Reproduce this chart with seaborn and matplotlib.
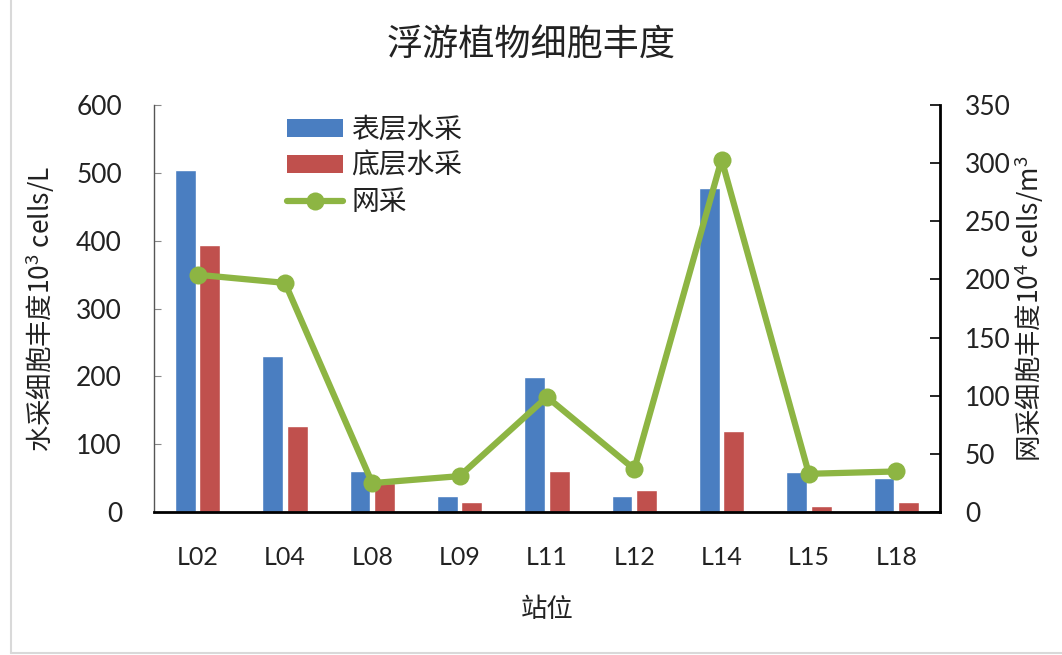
import matplotlib
matplotlib.use("Agg")
import matplotlib.pyplot as plt
import seaborn as sns
import numpy as np
import pandas as pd
from matplotlib.lines import Line2D
from matplotlib.patches import Patch

# Stations and abundance values
stations = ["L02", "L04", "L08", "L09", "L11", "L12", "L14", "L15", "L18"]
surface = [504, 230, 60, 24, 199, 24, 478, 59, 50]      # 表层水采, 10^3 cells/L
bottom = [393, 127, 43, 15, 61, 33, 119, 9, 15]        # 底层水采, 10^3 cells/L
net = [204, 197, 25, 31, 99, 37, 303, 33, 35]          # 网采, 10^4 cells/m^3

sns.set_theme(style="white")
CJK = "Noto Sans CJK SC"
FONTS = ["Lato", CJK, "DejaVu Sans"]
plt.rcParams["font.family"] = FONTS
plt.rcParams["mathtext.fontset"] = "custom"
plt.rcParams["mathtext.rm"] = CJK
plt.rcParams["mathtext.it"] = CJK
plt.rcParams["mathtext.bf"] = CJK

BLUE = "#4A7EC1"
RED = "#C0504D"
GREEN = "#8DB543"
TXT = "#222222"
TICK_FS = 19
LABEL_FS = 19

fig = plt.figure(figsize=(10.62, 6.55), dpi=100)
ax = fig.add_axes([0.145, 0.218, 0.740, 0.622])

df = pd.DataFrame({
    "站位": stations * 2,
    "丰度": surface + bottom,
    "层": ["表层水采"] * len(stations) + ["底层水采"] * len(stations),
})
sns.barplot(data=df, x="站位", y="丰度", hue="层", order=stations,
            hue_order=["表层水采", "底层水采"], palette=[BLUE, RED],
            width=0.56, gap=0.15, saturation=1, ax=ax, legend=False)

ax.set_ylim(0, 600)
ax.set_yticks(np.arange(0, 601, 100))
ax.set_xlim(-0.5, len(stations) - 0.5)
ax.set_xlabel("站位", fontsize=LABEL_FS, color=TXT, labelpad=20, family=[CJK, "DejaVu Sans"])
ax.set_ylabel("水采细胞丰度10$^3$ cells/L", fontsize=LABEL_FS, color=TXT, labelpad=14,
              family=CJK)

# x ticks at category boundaries, labels at centres
ax.set_xticks(np.arange(-0.5, len(stations), 1.0))
ax.set_xticklabels([])
ax.set_xticks(np.arange(len(stations)), minor=True)
ax.set_xticklabels(stations, minor=True, fontsize=TICK_FS - 1, color=TXT)
ax.tick_params(axis="x", which="major", direction="out", length=7, width=1.2, color="black")
ax.tick_params(axis="x", which="minor", length=0, pad=24)
ax.tick_params(axis="y", direction="in", length=5, width=0.8, color="#888888",
               labelsize=TICK_FS, labelcolor=TXT, pad=23)

ax.spines["top"].set_visible(False)
ax.spines["right"].set_visible(False)
ax.spines["left"].set_color("#555555")
ax.spines["left"].set_linewidth(1.0)
ax.spines["bottom"].set_color("black")
ax.spines["bottom"].set_linewidth(2.0)

# Net-sample line on the secondary axis
ax2 = ax.twinx()
sns.lineplot(x=np.arange(len(stations)), y=net, ax=ax2, color=GREEN,
             linewidth=4.5, marker="o", markersize=13, markeredgewidth=0,
             legend=False, zorder=5)
ax2.set_ylim(0, 350)
ax2.set_yticks(np.arange(0, 351, 50))
ax2.set_xlim(-0.5, len(stations) - 0.5)
ax2.set_ylabel("网采细胞丰度10$^4$ cells/m$^3$", fontsize=LABEL_FS, color=TXT, labelpad=1,
               family=CJK)
ax2.tick_params(axis="y", direction="in", length=7, width=1.2, color="black",
                labelsize=TICK_FS, labelcolor=TXT, pad=18)
for s in ["top", "left", "bottom"]:
    ax2.spines[s].set_visible(False)
ax2.spines["right"].set_color("black")
ax2.spines["right"].set_linewidth(2.0)
ax2.grid(False)
ax.grid(False)

handles = [
    Patch(facecolor=BLUE, edgecolor="none"),
    Patch(facecolor=RED, edgecolor="none"),
    Line2D([0], [0], color=GREEN, linewidth=4.5, marker="o", markersize=13,
           markeredgewidth=0),
]
leg = ax2.legend(handles, ["表层水采", "底层水采", "网采"], loc="upper left",
                 bbox_to_anchor=(0.138, 1.037), frameon=False,
                 handlelength=2.0, handleheight=0.6, handletextpad=0.3,
                 labelspacing=0.22,
                 prop={"family": [CJK, "DejaVu Sans"], "size": 20})
for t in leg.get_texts():
    t.set_color(TXT)

fig.suptitle("浮游植物细胞丰度", fontsize=26, color=TXT, y=0.958,
             family=[CJK, "DejaVu Sans"])

# Light chart-area border along left and bottom edges
fig.add_artist(Line2D([0.010, 0.010], [0.003, 1.0], transform=fig.transFigure,
                      color="#D9D9D9", linewidth=1.5))
fig.add_artist(Line2D([0.010, 1.0], [0.003, 0.003], transform=fig.transFigure,
                      color="#D9D9D9", linewidth=1.5))

fig.savefig("out.png", dpi=100, facecolor="white")
